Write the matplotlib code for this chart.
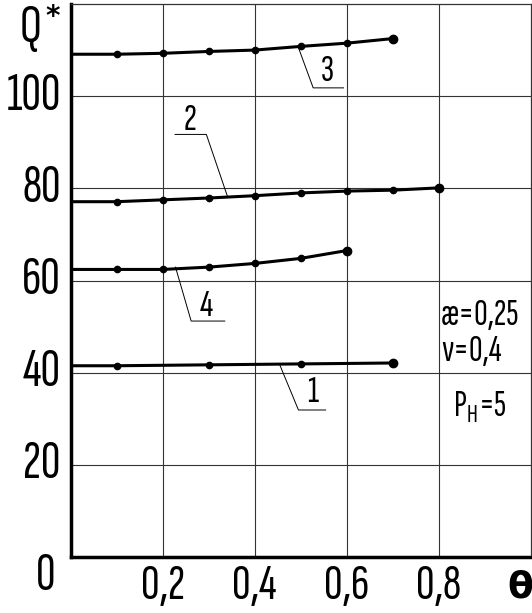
import matplotlib.pyplot as plt
import numpy as np

FONTS = ['Sofia Sans Extra Condensed', 'Sofia Sans Condensed', 'DejaVu Sans']
plt.rcParams['font.family'] = FONTS
plt.rcParams['font.weight'] = 300

# krzywe Q*(theta)
theta_1 = [0.0, 0.1, 0.3, 0.5, 0.7]
q_1 = [41.5, 41.5, 41.7, 41.9, 42.1]

theta_2 = [0.0, 0.1, 0.2, 0.3, 0.4, 0.5, 0.6, 0.7, 0.8]
q_2 = [77.1, 77.1, 77.5, 77.9, 78.4, 79.0, 79.4, 79.6, 80.1]

theta_3 = [0.0, 0.1, 0.2, 0.3, 0.4, 0.5, 0.6, 0.7]
q_3 = [109.1, 109.1, 109.3, 109.7, 110.0, 110.8, 111.5, 112.5]

theta_4 = [0.0, 0.1, 0.2, 0.3, 0.4, 0.5, 0.6]
q_4 = [62.4, 62.4, 62.4, 62.9, 63.7, 64.8, 66.5]

x_ticks = [0.2, 0.4, 0.6, 0.8]
x_labels = ['0,2', '0,4', '0,6', '0,8']
y_ticks = [20, 40, 60, 80, 100]
y_labels = ['20', '40', '60', '80', '100']

fig = plt.figure(figsize=(5.32, 6.13), dpi=100)
ax = fig.add_axes([70.5 / 532, 1 - 557 / 613, (531 - 70.5) / 532, (557 - 4) / 613])

ax.set_xlim(0, 1)
ax.set_ylim(0, 120)

# siatka
for xv in x_ticks:
    ax.axvline(xv, color='#333333', lw=0.8, zorder=1)
for yv in y_ticks:
    ax.axhline(yv, color='#333333', lw=0.8, zorder=1)

# krzywe
for th, q in [(theta_1, q_1), (theta_2, q_2), (theta_3, q_3), (theta_4, q_4)]:
    ax.plot(th, q, color='black', lw=2.2, marker='o', ms=4.5, markevery=list(range(1, len(th) - 1)),
            zorder=3, solid_capstyle='butt')
    ax.plot(th[-1], q[-1], 'o', color='black', ms=6, zorder=4)

# odnośniki z numerami krzywych
leaders = {
    '1': ([0.454, 0.495, 0.554], [41.8, 31.9, 31.9], (0.525, 35.6)),
    '2': ([0.341, 0.295, 0.227], [78.2, 91.7, 91.7], (0.26, 94.8)),
    '3': ([0.494, 0.527, 0.593], [110.8, 101.8, 101.8], (0.558, 105.3)),
    '4': ([0.228, 0.262, 0.335], [62.9, 51.2, 51.2], (0.296, 54.3)),
}
for name, (lx, ly, (tx, ty)) in leaders.items():
    ax.plot(lx, ly, color='black', lw=0.7, zorder=2)
    ax.text(tx, ty, name, fontsize=28, ha='center', va='center')

# parametry
ax.text(0.805, 52.3, 'æ=0,25', fontsize=27, ha='left', va='center')
ax.text(0.805, 44.6, 'ν=0,4', fontsize=27, ha='left', va='center')
ax.text(0.83, 32.5, 'P$_\\mathregular{H}$=5', fontsize=27, ha='left', va='center')

# osie
ax.set_xticks(x_ticks)
ax.set_xticklabels(x_labels, fontsize=37)
ax.set_yticks(y_ticks)
ax.set_yticklabels(y_labels, fontsize=39)
for lab in ax.get_yticklabels():
    lab.set_va('center')
ax.tick_params(length=0)
ax.tick_params(axis='x', pad=5)
ax.tick_params(axis='y', pad=7)

for s in ['left', 'bottom']:
    ax.spines[s].set_linewidth(2.5)
for s in ['top', 'right']:
    ax.spines[s].set_linewidth(0.9)
    ax.spines[s].set_color('#333333')

fig.text(46 / 532, 1 - 577 / 613, '0', fontsize=39, ha='center', va='center')
fig.text(520 / 532, 1 - 588 / 613, 'θ', fontsize=27, ha='center', va='center', fontweight='bold',
         family=['DejaVu Sans'])
fig.text(31 / 532, 1 - 28 / 613, 'Q', fontsize=39, ha='center', va='center')
fig.text(52.5 / 532, 1 - 17 / 613, '*', fontsize=20, ha='center', va='center', fontweight='bold',
         family=['DejaVu Sans'])

fig.savefig('out.png', dpi=100)
